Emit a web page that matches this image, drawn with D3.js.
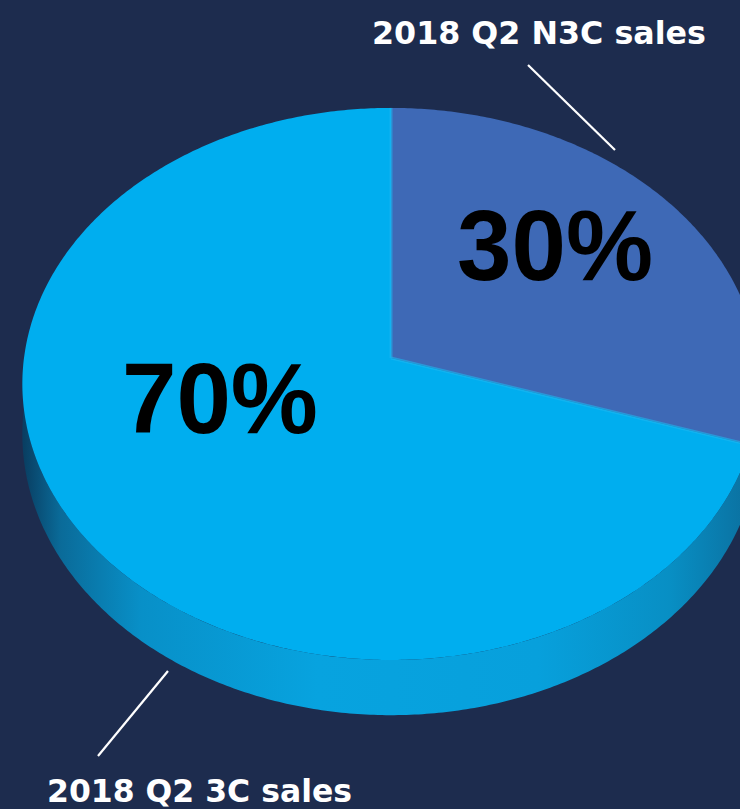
<!DOCTYPE html>
<html>
<head>
<meta charset="UTF-8">
<title>2018 Q2 sales split</title>
<script src="https://cdn.jsdelivr.net/npm/d3@7"></script>
<style>
  html, body { margin: 0; padding: 0; background: #1d2c4e; }
  svg { display: block; }
  .pct { font-family: "Liberation Sans", Arial, sans-serif; font-weight: bold; fill: #000; }
  .cat { font-family: "DejaVu Sans", sans-serif; font-weight: bold; fill: #fff; }
  .leader { stroke: #fff; stroke-width: 2.2; fill: none; }
</style>
</head>
<body>
<div id="chart"></div>
<script>
// data
var categories = ["2018 Q2 N3C sales", "2018 Q2 3C sales"];
var shares = [30, 70];
var topColors = ["#3e69b6", "#00aeef"];

var width = 740, height = 809;

// 3d pie geometry (tilted disc seen in perspective)
var cx = 391, cy = 358, rx = 367, ry = 273.6, persp = 0.094, depth = 50;

function proj(u, v, h) {
  var w = 1 - persp * v;
  return [cx + rx * u / w, cy + (ry * v + depth * h) / w];
}
function rim(a, r, h) {
  return proj(r * Math.sin(a), -r * Math.cos(a), h);
}
function arcPts(a0, a1, h) {
  var n = Math.max(2, Math.ceil(Math.abs(a1 - a0) / 0.01)), pts = [];
  for (var i = 0; i <= n; i++) pts.push(rim(a0 + (a1 - a0) * i / n, 1, h));
  return pts;
}

var svg = d3.select("#chart").append("svg")
  .attr("width", width)
  .attr("height", height);

svg.append("rect").attr("width", width).attr("height", height).attr("fill", "#1d2c4e");

var defs = svg.append("defs");
var grad = defs.append("linearGradient")
  .attr("id", "side")
  .attr("gradientUnits", "userSpaceOnUse")
  .attr("x1", cx - rx).attr("x2", cx + rx).attr("y1", 0).attr("y2", 0);
[[0, "#093f63"], [0.05, "#0a6b99"], [0.16, "#0890c8"], [0.4, "#07a3df"], [0.7, "#07a0dc"], [0.88, "#088fc4"], [1, "#0b6d9c"]]
  .forEach(function(s) { grad.append("stop").attr("offset", s[0]).attr("stop-color", s[1]); });

var pie = d3.pie().sort(null).value(function(d) { return d; });
var slices = pie(shares);

var line = d3.line();

// sides (only the front half of the rim is visible)
var g = svg.append("g");
slices.forEach(function(s) {
  var a0 = Math.max(s.startAngle, Math.PI / 2), a1 = Math.min(s.endAngle, 3 * Math.PI / 2);
  if (a1 <= a0) return;
  var pts = arcPts(a0, a1, 0).concat(arcPts(a1, a0, 1));
  g.append("path")
    .attr("d", line(pts) + "Z")
    .attr("fill", "url(#side)");
});

// top faces
slices.forEach(function(s, i) {
  var pts = [proj(0, 0, 0)].concat(arcPts(s.startAngle, s.endAngle, 0));
  g.append("path")
    .attr("d", line(pts) + "Z")
    .attr("fill", topColors[i]);
});

// faint bevel on the big slice edges
slices.forEach(function(s, i) {
  if (i !== 1) return;
  [s.startAngle, s.endAngle].forEach(function(a) {
    var c = proj(0, 0, 0), e = rim(a, 1, 0);
    g.append("line")
      .attr("x1", c[0]).attr("y1", c[1]).attr("x2", e[0]).attr("y2", e[1])
      .attr("stroke", "#1cb6f0").attr("stroke-width", 3).attr("stroke-opacity", 0.6);
  });
});

// percent labels
var labelSpot = [{ r: 0.636, da: -7 }, { r: 0.481, da: 19 }];
slices.forEach(function(s, i) {
  var mid = (s.startAngle + s.endAngle) / 2 + labelSpot[i].da * Math.PI / 180;
  var p = rim(mid, labelSpot[i].r, 0);
  svg.append("text")
    .attr("class", "pct")
    .attr("x", p[0])
    .attr("y", p[1] + 36)
    .attr("text-anchor", "middle")
    .attr("font-size", 100)
    .attr("textLength", 196)
    .attr("lengthAdjust", "spacingAndGlyphs")
    .text(d3.format(".0f")(s.value / d3.sum(shares) * 100) + "%");
});

// category labels with leader lines
var catSpot = [
  { x: 372, y: 44, len: 334, l: [528, 65, 615, 150] },
  { x: 47, y: 802, len: 305, l: [168, 671, 98, 756] }
];
categories.forEach(function(c, i) {
  var o = catSpot[i];
  svg.append("text")
    .attr("class", "cat")
    .attr("x", o.x)
    .attr("y", o.y)
    .attr("font-size", 32)
    .attr("textLength", o.len)
    .attr("lengthAdjust", "spacingAndGlyphs")
    .text(c);
  svg.append("line")
    .attr("class", "leader")
    .attr("x1", o.l[0]).attr("y1", o.l[1])
    .attr("x2", o.l[2]).attr("y2", o.l[3]);
});
</script>
</body>
</html>
